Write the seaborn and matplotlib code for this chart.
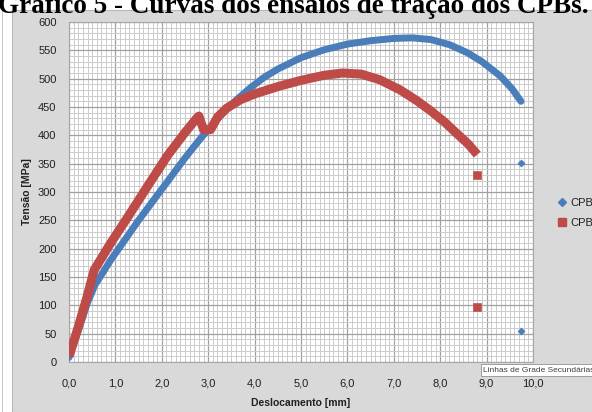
import numpy as np
import pandas as pd
import matplotlib
matplotlib.use("Agg")
import matplotlib.pyplot as plt
from matplotlib.lines import Line2D
from matplotlib.patches import Rectangle
from matplotlib.ticker import MultipleLocator, FuncFormatter
import seaborn as sns

# ---- data ----
cpb1_x = [0.0, 0.2, 0.4, 0.56, 0.9, 1.2, 1.5, 1.8, 2.1, 2.5, 2.84, 3.0, 3.3, 3.6, 3.91, 4.2, 4.5, 5.0, 5.5, 6.0, 6.5, 7.0, 7.4, 7.8, 8.2, 8.58, 8.9, 9.29, 9.55, 9.74]
cpb1_y = [8, 55, 105, 136, 180, 215, 250, 283, 316, 360, 395, 410, 438, 462, 484, 502, 517, 537, 551, 561, 567, 571, 572, 569, 560, 546, 530, 505, 482, 460]
cpb1_extra_x = [9.74, 9.74]
cpb1_extra_y = [351, 55]

cpb2_x = [0.0, 0.2, 0.4, 0.54, 0.9, 1.3, 1.55, 1.85, 2.13, 2.5, 2.75, 2.8, 2.9, 3.05, 3.2, 3.4, 3.7, 4.0, 4.5, 5.0, 5.5, 5.9, 6.3, 6.7, 7.14, 7.5, 7.8, 8.1, 8.4, 8.6, 8.8]
cpb2_y = [10, 62, 118, 162, 210, 260, 292, 330, 365, 405, 430, 434, 410, 410, 432, 448, 463, 473, 486, 497, 506, 510, 508, 498, 480, 461, 443, 423, 400, 385, 366]
cpb2_extra_x = [8.8, 8.8]
cpb2_extra_y = [330, 97]

series_names = ["CPB1", "CPB2"]
title_text = "Gráfico 5 - Curvas dos ensaios de tração dos CPBs."
x_label = "Deslocamento [mm]"
y_label = "Tensão [MPa]"
tooltip_text = "Linhas de Grade SecundáriasD"

blue = "#4a7ebb"
red = "#be4b48"

sns.set_theme(style="white")
plt.rcParams['font.family'] = ['Liberation Sans', 'DejaVu Sans']

W, H = 592, 412
fig = plt.figure(figsize=(W / 100, H / 100), dpi=100, facecolor="white")

# gray chart area
fig.patches.append(Rectangle((12 / W, 0), 1 - 12 / W, (H - 10) / H, transform=fig.transFigure,
                             facecolor="#d9d9d9", edgecolor="#b8b8b8", linewidth=0.8, zorder=-2))
fig.patches.append(Rectangle((2 / W, 0), 1.2 / W, 1, transform=fig.transFigure,
                             facecolor="#c8c8c8", edgecolor="none", zorder=-2))

ax = fig.add_axes([69 / W, (H - 362) / H, (533 - 69) / W, (362 - 22) / H])
ax.set_zorder(1)
ax.set_facecolor("white")

df1 = pd.DataFrame({"x": cpb1_x, "y": cpb1_y})
df2 = pd.DataFrame({"x": cpb2_x, "y": cpb2_y})
sns.lineplot(data=df1, x="x", y="y", sort=False, estimator=None, color=blue, linewidth=5.0,
             solid_capstyle="round", solid_joinstyle="round", ax=ax, zorder=3)
sns.lineplot(data=df2, x="x", y="y", sort=False, estimator=None, color=red, linewidth=6.5,
             solid_capstyle="butt", solid_joinstyle="round", ax=ax, zorder=4)
sns.scatterplot(x=cpb1_extra_x, y=cpb1_extra_y, marker="D", s=14, color=blue, edgecolor=blue, ax=ax, zorder=5)
sns.scatterplot(x=cpb2_extra_x, y=cpb2_extra_y, marker="s", s=30, color=red, edgecolor=red, ax=ax, zorder=5)

ax.set_xlim(0, 10)
ax.set_ylim(0, 600)
ax.xaxis.set_major_locator(MultipleLocator(1))
ax.xaxis.set_minor_locator(MultipleLocator(0.1))
ax.yaxis.set_major_locator(MultipleLocator(50))
ax.yaxis.set_minor_locator(MultipleLocator(10))
ax.xaxis.set_major_formatter(FuncFormatter(lambda v, p: f"{v:.1f}".replace(".", ",")))
ax.yaxis.set_major_formatter(FuncFormatter(lambda v, p: f"{int(round(v))}"))

ax.grid(which="major", color="#a0a0a0", linewidth=0.9)
ax.grid(which="minor", color="#cccccc", linewidth=0.7)
ax.set_axisbelow(True)

ax.tick_params(axis="both", which="major", direction="out", length=4, width=0.8,
               color="#a0a0a0", labelsize=8, labelcolor="#202020")
ax.tick_params(axis="x", which="major", pad=8)
ax.tick_params(axis="y", which="major", pad=5)
ax.tick_params(axis="both", which="minor", length=0)
for s in ax.spines.values():
    s.set_color("#a6a6a6")
    s.set_linewidth(0.8)

ax.set_xlabel(x_label, fontsize=7.5, fontweight="bold", color="#202020", labelpad=7)
ax.set_ylabel(y_label, fontsize=7.5, fontweight="bold", color="#202020", labelpad=4)

# legend
handles = [Line2D([], [], linestyle="none", marker="D", markersize=4.5, color=blue),
           Line2D([], [], linestyle="none", marker="s", markersize=5.5, color=red)]
fig.legend(handles, series_names, loc="center left", bbox_to_anchor=(549 / W, (H - 213) / H),
           frameon=False, fontsize=8, handlelength=0.6, handletextpad=0.4, labelspacing=0.9,
           labelcolor="#202020")

# title (partly cut off at top)
fig.text(-0.003, (H - 13) / H, title_text, fontsize=19.5, fontweight="bold",
         family=["Liberation Serif", "DejaVu Serif"], ha="left", va="baseline", color="black")

# tooltip box
fig.text(483 / W, (H - 370) / H, tooltip_text, fontsize=6, color="#404040", ha="left", va="center",
         bbox=dict(boxstyle="square,pad=0.25", facecolor="white", edgecolor="#909090", linewidth=0.6),
         zorder=10)

fig.savefig("out.png", dpi=100, facecolor=fig.get_facecolor())
